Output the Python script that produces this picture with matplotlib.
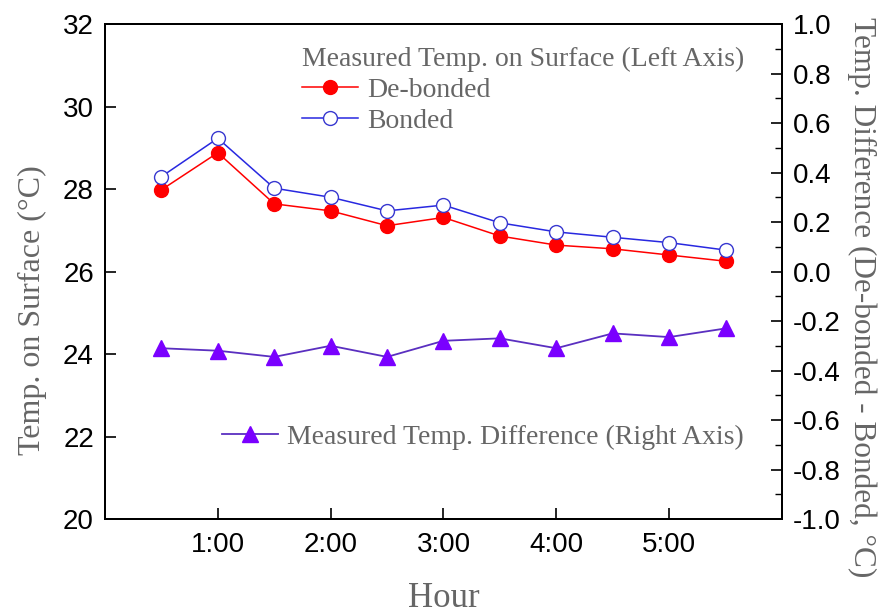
import matplotlib
matplotlib.use("Agg")
import matplotlib.pyplot as plt
from matplotlib.ticker import MultipleLocator, FixedLocator

hours = [0.5, 1.0, 1.5, 2.0, 2.5, 3.0, 3.5, 4.0, 4.5, 5.0, 5.5]
debonded = [27.98, 28.88, 27.64, 27.47, 27.11, 27.31, 26.86, 26.64, 26.55, 26.40, 26.25]
bonded = [28.30, 29.23, 28.02, 27.80, 27.47, 27.61, 27.18, 26.96, 26.83, 26.70, 26.52]
difference = [-0.31, -0.32, -0.345, -0.30, -0.345, -0.28, -0.27, -0.31, -0.25, -0.265, -0.23]
xtick_pos = [1, 2, 3, 4, 5]
xtick_labels = ["1:00", "2:00", "3:00", "4:00", "5:00"]

serif = ["Liberation Serif", "DejaVu Serif"]
sans = ["Liberation Sans", "DejaVu Sans"]
gray = "#666666"

fig = plt.figure(figsize=(8.83, 6.14), dpi=100)
ax = fig.add_axes([0.1189, 0.1547, 0.8856 - 0.1189, 0.9609 - 0.1547])
ax2 = ax.twinx()

l1, = ax.plot(hours, debonded, color="#ff0000", lw=1.1, marker="o", ms=10,
              mfc="#ff0000", mec="#ff0000", label="De-bonded")
l2, = ax.plot(hours, bonded, color="#2828e0", lw=1.1, marker="o", ms=10,
              mfc="white", mec="#3838d0", mew=1.0, label="Bonded")
l3, = ax2.plot(hours, difference, color="#5a2fc0", lw=1.3, marker="^", ms=12,
               mfc="#7a00ff", mec="#7a00ff", label="Measured Temp. Difference (Right Axis)")

ax.set_xlim(0, 6)
ax.set_ylim(20, 32)
ax2.set_ylim(-1.0, 1.0)

ax.set_xticks(xtick_pos)
ax.set_xticklabels(xtick_labels)
ax.yaxis.set_major_locator(FixedLocator([20, 22, 24, 26, 28, 30, 32]))
ax2.yaxis.set_major_locator(MultipleLocator(0.2))
ax2.yaxis.set_minor_locator(MultipleLocator(0.1))
ax2.set_yticklabels([f"{v:.1f}" for v in ax2.get_yticks()])

for a in (ax, ax2):
    for s in a.spines.values():
        s.set_linewidth(1.4)
        s.set_color("black")

ax.tick_params(axis="both", which="major", direction="in", length=8, width=1.2,
               labelsize=20, pad=8)
ax.tick_params(axis="x", pad=9)
ax2.tick_params(axis="y", which="major", direction="in", length=8, width=1.2,
                labelsize=20, pad=8)
ax2.tick_params(axis="y", which="minor", direction="in", length=5, width=1.0)
for lab in ax.get_xticklabels() + ax.get_yticklabels() + ax2.get_yticklabels():
    lab.set_fontfamily(sans)

ax.set_xlabel("Hour", fontsize=25, family=serif, color=gray)
ax.xaxis.set_label_coords(0.5, (519 - 598) / 495, transform=ax.transAxes)
ax.xaxis.label.set_va("center")
ax.set_ylabel("Temp. on Surface (°C)", fontsize=23, family=serif, color=gray)
ax.yaxis.set_label_coords((32 - 105) / 677, (519 - 310) / 495)
ax.yaxis.label.set_va("center")
ax2.set_ylabel("Temp. Difference (De-bonded - Bonded, °C)", fontsize=22.5, family=serif,
               color=gray, rotation=-90)
ax2.yaxis.set_label_coords((862 - 105) / 677, (519 - 297) / 495)
ax2.yaxis.label.set_va("center")

leg1 = ax2.legend(handles=[l1, l2], title="Measured Temp. on Surface (Left Axis)",
                  loc="upper left", bbox_to_anchor=(302 / 883, 1 - 47 / 614),
                  bbox_transform=fig.transFigure, frameon=False, alignment="left",
                  prop={"family": serif, "size": 20},
                  title_fontproperties={"family": serif, "size": 20},
                  handlelength=2.0, handletextpad=0.35, labelspacing=0.2, borderpad=0.0,
                  borderaxespad=0.0)
leg1.get_title().set_color(gray)
for t in leg1.get_texts():
    t.set_color(gray)
ax2.add_artist(leg1)

leg2 = ax2.legend(handles=[l3], loc="center left",
                  bbox_to_anchor=(222 / 883, 1 - 437 / 614),
                  bbox_transform=fig.transFigure, frameon=False,
                  prop={"family": serif, "size": 20},
                  handlelength=2.0, handletextpad=0.35, borderpad=0.0, borderaxespad=0.0)
for t in leg2.get_texts():
    t.set_color(gray)

fig.savefig("out.png", dpi=100)
